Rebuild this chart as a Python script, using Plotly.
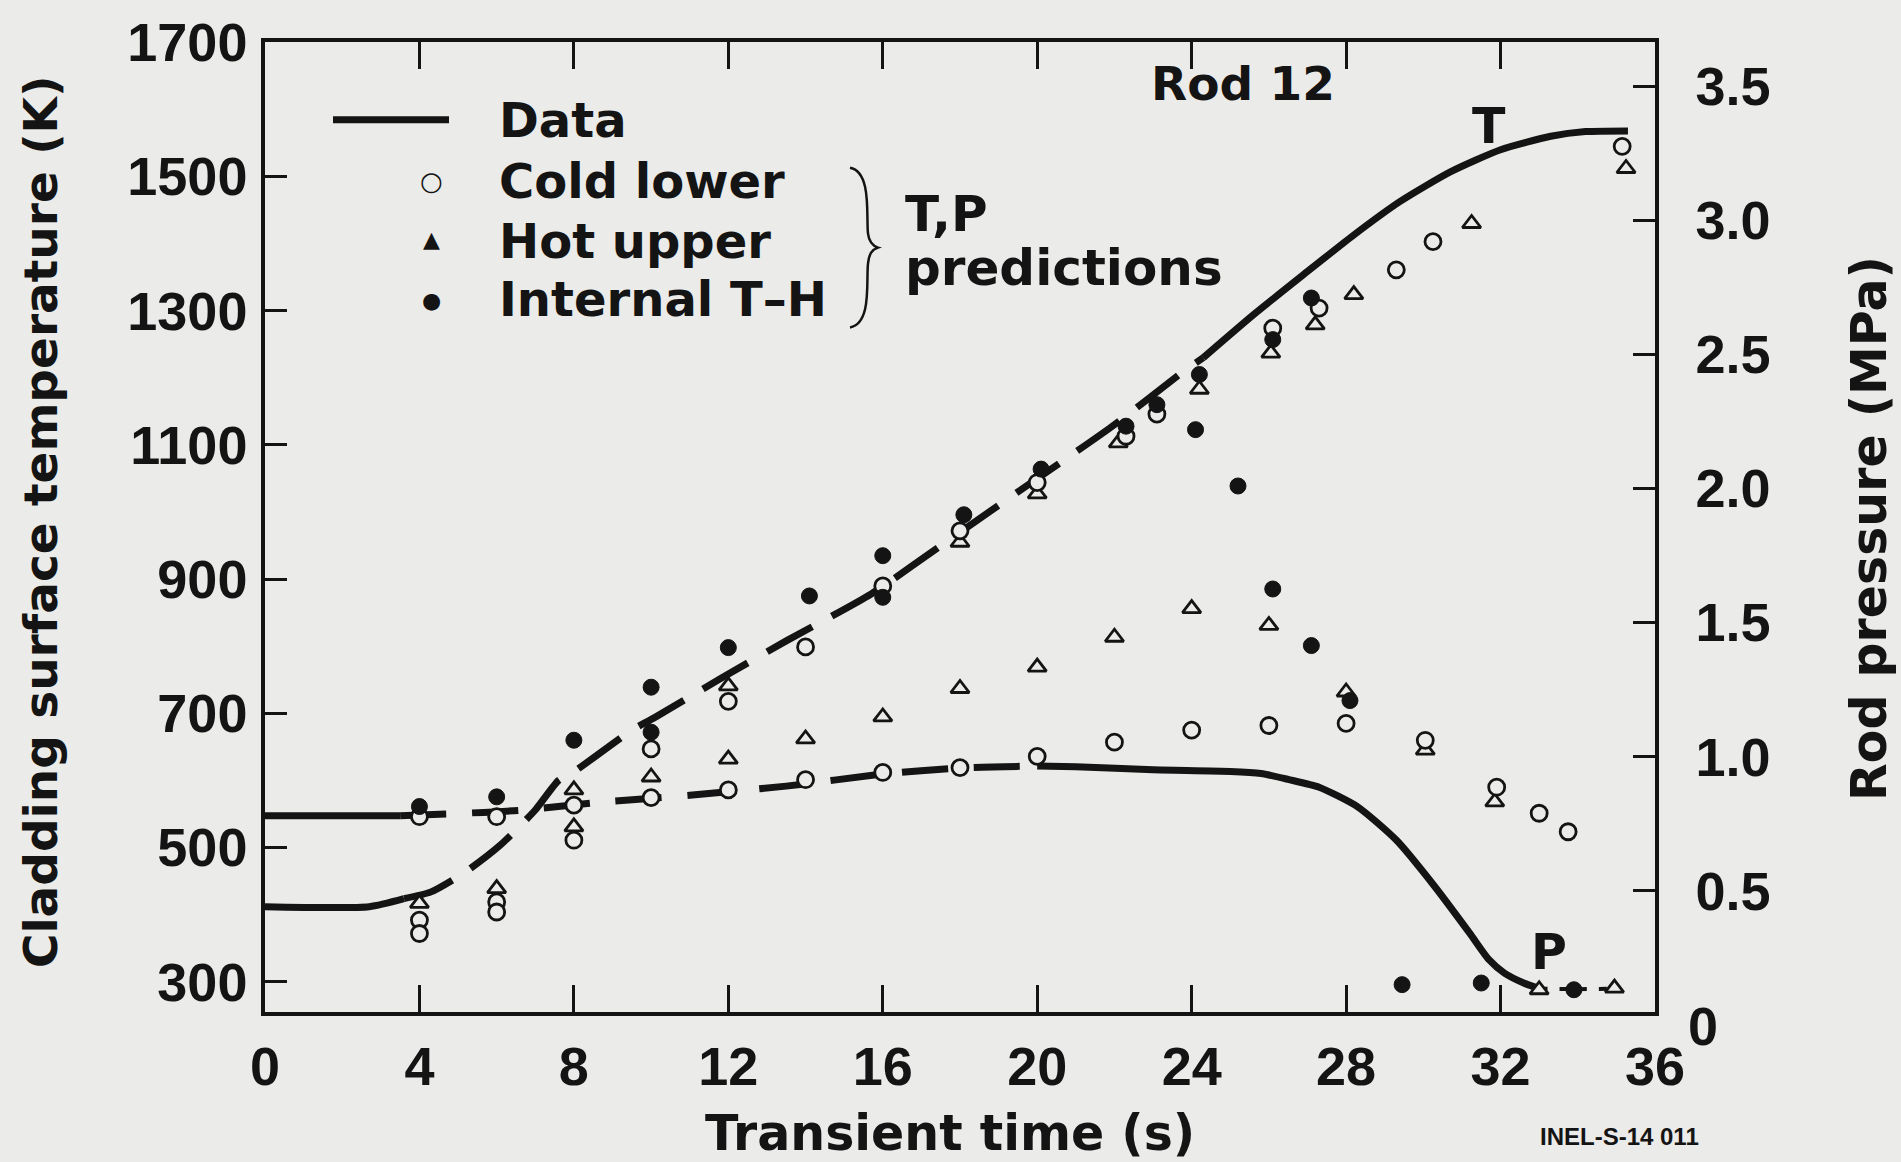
import plotly.graph_objects as go

# ---------------- data ----------------
# Measured cladding surface temperature (K) vs transient time (s)
t_data_T = [0, 2.7, 3.6, 4.3, 5.2, 6.1, 7.0, 7.6, 8.0, 9.5, 10.1, 11.8, 13.5, 15.7, 17.75,
            19.8, 21.9, 23.8, 24.3, 25.6, 26.9, 28.2, 29.4, 30.7, 32.0, 33.3, 34.2, 35.3]
temp_data = [412, 412, 424, 434, 464, 504, 556, 600, 613, 675, 694, 752, 808, 878, 960,
             1042, 1126, 1210, 1230, 1294, 1354, 1413, 1463, 1507, 1540, 1560, 1567, 1568]

# Measured rod pressure (MPa)
t_data_P = [0, 3.5, 4.7, 6.6, 8.7, 11.0, 13.5, 16.0, 18.0, 20.0, 21.0, 23.0, 25.0, 25.8,
            26.5, 27.3, 28.3, 29.3, 30.3, 31.2, 31.7, 32.1, 32.6, 33.0, 34.0, 35.0]
pres_data = [0.78, 0.78, 0.786, 0.80, 0.83, 0.856, 0.89, 0.935, 0.958, 0.965, 0.962, 0.951,
             0.945, 0.937, 0.915, 0.886, 0.813, 0.689, 0.515, 0.342, 0.243, 0.193, 0.156,
             0.135, 0.133, 0.135]

# Temperature predictions (K)
t_cold_T = [4, 4, 6, 6, 8, 10, 12, 14, 16, 18, 20, 22.3, 23.1, 26.1, 27.3, 29.3, 30.25, 35.15]
temp_cold = [392, 372, 419, 404, 511, 647, 718, 799, 890, 972, 1044, 1113, 1146, 1274, 1304,
             1361, 1403, 1545]
t_hot_T = [4, 6, 8, 12, 18, 20, 22.1, 24.2, 26.05, 27.2, 28.2, 31.25, 35.25]
temp_hot = [417, 439, 531, 741, 955, 1027, 1103, 1183, 1237, 1279, 1324, 1430, 1512]
t_th_T = [8, 10, 12, 14.1, 16, 18.1, 20.1, 22.3, 23.1, 24.2, 26.1, 27.1]
temp_th = [660, 739, 798, 875, 935, 996, 1064, 1128, 1160, 1205, 1257, 1319]

# Pressure predictions (MPa)
t_cold_P = [4, 6, 8, 10, 12, 14, 16, 18, 20, 22, 24, 26, 28, 30.05, 31.9, 33.0, 33.75]
pres_cold = [0.776, 0.776, 0.819, 0.847, 0.876, 0.914, 0.941, 0.959, 1.001, 1.054, 1.099,
             1.116, 1.124, 1.061, 0.886, 0.789, 0.720]
t_hot_P = [8, 10, 12, 14, 16, 18, 20, 22, 24, 26, 28, 30.05, 31.85, 33.0, 34.95]
pres_hot = [0.876, 0.924, 0.991, 1.066, 1.148, 1.254, 1.334, 1.445, 1.552, 1.489, 1.241,
            1.024, 0.831, 0.131, 0.137]
t_th_P = [4, 6, 10, 16, 24.1, 25.2, 26.1, 27.1, 28.1, 29.45, 31.5, 33.9]
pres_th = [0.814, 0.850, 1.091, 1.594, 2.219, 2.009, 1.625, 1.414, 1.209, 0.150, 0.156, 0.131]

x_ticks = [0, 4, 8, 12, 16, 20, 24, 28, 32, 36]
y_ticks = [300, 500, 700, 900, 1100, 1300, 1500, 1700]
y2_ticks = [0.5, 1.0, 1.5, 2.0, 2.5, 3.0, 3.5]

# ---------------- styling ----------------
BG = "#ebebe9"
INK = "#141414"
NUMFONT = "Liberation Sans"
WORDFONT = "DejaVu Sans"
W, H = 1901, 1162
PL, PR, PT, PB = 265, 1655, 40, 1012


def px(x):
    return (x - PL) / (PR - PL)


def py(y):
    return (PB - y) / (PB - PT)


def part(t, v, lo, hi):
    pts = [(a, b) for a, b in zip(t, v) if lo <= a <= hi]
    return [p[0] for p in pts], [p[1] for p in pts]


fig = go.Figure()
LW = 7

# temperature data line: solid / broken / solid
for lo, hi, dash in [(0, 3.6, "solid"), (3.6, 24.3, "52px,22px"), (24.3, 40, "solid")]:
    xs, ys = part(t_data_T, temp_data, lo, hi)
    fig.add_trace(go.Scatter(x=xs, y=ys, mode="lines", line=dict(color=INK, width=LW, dash=dash,
                                                                  shape="spline", smoothing=0.6),
                             showlegend=False, hoverinfo="skip"))

# pressure data line
for lo, hi, dash, w in [(0, 3.5, "solid", LW), (3.5, 20.0, "46px,26px", LW),
                        (20.0, 33.0, "solid", LW), (33.0, 40, "8px,12px", 4)]:
    xs, ys = part(t_data_P, pres_data, lo, hi)
    fig.add_trace(go.Scatter(x=xs, y=ys, yaxis="y2", mode="lines",
                             line=dict(color=INK, width=w, dash=dash, shape="spline", smoothing=0.6),
                             showlegend=False, hoverinfo="skip"))

open_circle = dict(symbol="circle", size=16, color=BG, line=dict(color=INK, width=2.8))
open_tri = dict(symbol="triangle-up", size=16, color=BG, line=dict(color=INK, width=2.8))
filled = dict(symbol="circle", size=16, color=INK, line=dict(color=INK, width=1))

series = [
    (t_hot_T, temp_hot, "y", open_tri),
    (t_cold_T, temp_cold, "y", open_circle),
    (t_hot_P, pres_hot, "y2", open_tri),
    (t_cold_P, pres_cold, "y2", open_circle),
    (t_th_T, temp_th, "y", filled),
    (t_th_P, pres_th, "y2", filled),
]
for xs, ys, ax, mk in series:
    fig.add_trace(go.Scatter(x=xs, y=ys, yaxis=ax, mode="markers", marker=mk,
                             showlegend=False, hoverinfo="skip", cliponaxis=False))

tickfont = dict(family=NUMFONT, size=54, color=INK, weight="bold")

fig.update_layout(
    width=W, height=H,
    margin=dict(l=PL, r=W - PR, t=PT, b=H - PB),
    paper_bgcolor=BG, plot_bgcolor=BG,
    showlegend=False,
    xaxis=dict(range=[0, 36], tickvals=x_ticks, ticks="inside", ticklen=27, tickwidth=3,
               tickcolor=INK, showline=True, linewidth=3.5, linecolor=INK, mirror="ticks",
               showgrid=False, zeroline=False, tickfont=tickfont, ticklabelstandoff=4),
    yaxis=dict(range=[255, 1700.5], tickvals=y_ticks, ticks="inside", ticklen=22, tickwidth=3,
               tickcolor=INK, showline=True, linewidth=3.5, linecolor=INK, showgrid=False,
               zeroline=False, tickfont=tickfont, ticklabelstandoff=3),
    yaxis2=dict(range=[0.048, 3.6642], tickvals=y2_ticks, tickformat=".1f", ticks="inside",
                ticklen=22, tickwidth=3, tickcolor=INK, showline=True, linewidth=3.5,
                linecolor=INK, overlaying="y", side="right", showgrid=False, zeroline=False,
                tickfont=tickfont, ticklabelstandoff=26, ticklabeloverflow="allow"),
)

ann = []


def text(x, y, s, size=48, xanchor="center", yanchor="middle", angle=0, family=WORDFONT,
         weight="bold"):
    ann.append(dict(x=px(x), y=py(y), xref="paper", yref="paper", text=s, showarrow=False,
                    xanchor=xanchor, yanchor=yanchor, textangle=angle,
                    font=dict(family=family, size=size, color=INK, weight=weight)))


# "0" of right axis (sits just below the frame)
text(1686, 1026, "0", size=54, xanchor="left", family=NUMFONT)

# axis titles
text(950, 1134, "Transient time (s)", size=49)
text(40, 521, "Cladding surface temperature (K)", size=47, angle=-90)
text(1870, 528, "Rod pressure (MPa)", size=49, angle=-90)

# legend
text(497, 118, "Data", size=48, xanchor="left")
text(497, 179, "Cold lower", size=48, xanchor="left")
text(497, 239, "Hot upper", size=48, xanchor="left")
text(497, 298, "Internal T\u2013H", size=48, xanchor="left")
text(431, 179, "\u25CB", size=26, weight="normal")
text(431, 238, "\u25B2", size=22, weight="normal")
text(431, 299, "\u25CF", size=22, weight="normal")
text(903, 212, "T,P", size=50, xanchor="left")
text(903, 266, "predictions", size=50, xanchor="left")

# in-plot labels
text(1243, 82, "Rod 12", size=47)
text(1489, 125, "T", size=49)
text(1549, 952, "P", size=49)
text(1619, 1137, "INEL-S-14 011", size=24, family=NUMFONT)

fig.update_layout(annotations=ann)

shapes = [
    # legend line sample
    dict(type="line", xref="paper", yref="paper", x0=px(333), x1=px(449), y0=py(118), y1=py(118),
         line=dict(color=INK, width=LW)),
    # brace
    dict(type="path", xref="paper", yref="paper",
         path=(f"M {px(850)} {py(166)} "
               f"C {px(872)} {py(170)} {px(866)} {py(215)} {px(868)} {py(232)} "
               f"C {px(869)} {py(240)} {px(872)} {py(244)} {px(878)} {py(246)} "
               f"C {px(872)} {py(248)} {px(869)} {py(252)} {px(868)} {py(262)} "
               f"C {px(866)} {py(280)} {px(872)} {py(322)} {px(850)} {py(326)}"),
         line=dict(color=INK, width=2.5)),
]
fig.update_layout(shapes=shapes)

fig.write_html("out.html")
